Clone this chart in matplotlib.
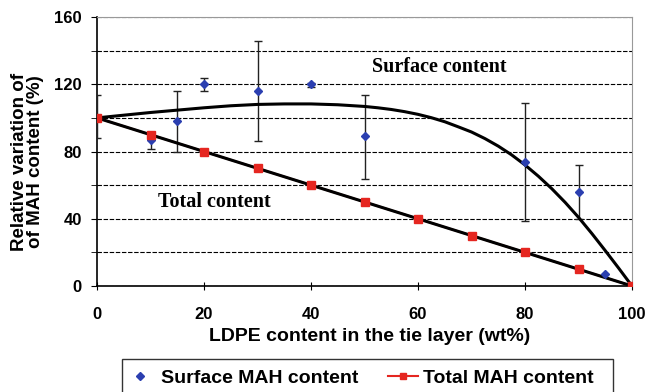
import matplotlib.pyplot as plt
from matplotlib.patches import Rectangle

# Surface MAH content: measured means and error bar limits
surface_x = [0, 10, 15, 20, 30, 40, 50, 80, 90, 95, 100]
surface_y = [100, 87, 98, 120, 116, 120, 89, 74, 56, 7, 0]
err_x = [0, 10, 15, 20, 30, 40, 50, 80, 90]
err_lo = [88, 81.5, 80, 116, 86, 118.5, 63.5, 38.5, 40]
err_hi = [113.5, 91.5, 116, 124, 146, 121, 113.5, 109, 72]

# Total MAH content
total_x = [0, 10, 20, 30, 40, 50, 60, 70, 80, 90, 100]
total_y = [100, 90, 80, 70, 60, 50, 40, 30, 20, 10, 0]

# trend curve drawn through the surface data
curve_x = [0, 5, 10, 15, 20, 25, 30, 35, 40, 45, 50, 52.5, 55, 57.5, 60, 62.5, 65,
           67.5, 70, 72.5, 75, 77.5, 80, 82.5, 85, 87.5, 90, 92.5, 95, 97.5, 100]
curve_y = [100, 101.6, 103.2, 104.6, 106, 107.2, 108, 108.3, 108.3, 107.8, 106.8,
           106.0, 105.0, 103.7, 102.1, 100.1, 97.7, 94.7, 91.6, 87.7, 83.2, 78.0,
           72.0, 65.3, 57.9, 49.75, 40.85, 31.2, 21.05, 10.65, 0]

plt.rcParams['font.family'] = 'Liberation Sans'
plt.rcParams['font.weight'] = 'bold'
plt.rcParams['axes.labelweight'] = 'bold'

W, H = 650, 392
fig = plt.figure(figsize=(W / 100, H / 100), dpi=100)
ax = fig.add_axes([97 / W, 1 - 286 / H, 535 / W, 269 / H])

ax.set_xlim(0, 100)
ax.set_ylim(0, 160)
ax.set_xticks(range(0, 101, 20))
ax.set_yticks(range(0, 161, 40))
ax.set_yticks(range(20, 161, 40), minor=True)
ax.grid(axis='y', which='both', color='black', linestyle=(0, (4, 1.5)), linewidth=0.8)
ax.set_axisbelow(True)

for s in ['top', 'right']:
    ax.spines[s].set_color('#999999')
    ax.spines[s].set_linewidth(0.8)
for s in ['left', 'bottom']:
    ax.spines[s].set_linewidth(1.2)

ax.tick_params(axis='y', which='both', direction='out', length=4, pad=7, labelsize=12)
ax.tick_params(axis='x', direction='inout', length=6, pad=12, labelsize=12)

# error bars
lo = [y - l for y, l in zip(surface_y, err_lo)]
hi = [h - y for y, h in zip(surface_y, err_hi)]
ax.errorbar(err_x, surface_y[:len(err_x)], yerr=[lo, hi], fmt='none',
            ecolor='#222222', elinewidth=1, capsize=3, capthick=1, zorder=3)

# trend lines
ax.plot(total_x, total_y, color='#e52620', linewidth=1.5, zorder=3)
ax.plot(curve_x, curve_y, color='black', linewidth=2.2, zorder=4)
ax.plot(total_x, total_y, color='black', linewidth=2.2, zorder=4)

ax.plot(surface_x, surface_y, linestyle='none', marker='D', markersize=4,
        color='#2b3fb0', zorder=5)
ax.plot(total_x, total_y, linestyle='none', marker='s', markersize=6,
        color='#e52620', zorder=6)

ax.text(64, 130, 'Surface content', family='Liberation Serif', fontweight='bold',
        fontsize=14.5, ha='center', va='center')
ax.text(22, 50, 'Total content', family='Liberation Serif', fontweight='bold',
        fontsize=14.5, ha='center', va='center')

ax.set_xlabel('LDPE content in the tie layer (wt%)', fontsize=14)
ax.xaxis.set_label_coords(0.51, -0.155)

fig.text(24 / W, 1 - 162 / H, 'Relative variation of', rotation=90,
         rotation_mode='anchor', ha='center', va='baseline', fontsize=13.5)
fig.text(40 / W, 1 - 162 / H, 'of MAH content (%)', rotation=90,
         rotation_mode='anchor', ha='center', va='baseline', fontsize=13.5)

# legend
h1, = ax.plot([], [], linestyle='none', marker='D', markersize=4, color='#2b3fb0')
h2, = ax.plot([], [], color='#e52620', marker='s', markersize=5, linewidth=1.5)
fig.legend([h1, h2], ['Surface MAH content', 'Total MAH content'],
           loc='center left', bbox_to_anchor=(125 / W, 1 - 378 / H),
           ncol=2, frameon=False, fontsize=14, handlelength=1.55,
           columnspacing=1.5, handletextpad=0.3, borderpad=0, borderaxespad=0)
fig.patches.append(Rectangle((122 / W, -0.1), 491 / W, 0.1 + 1 - 359 / H,
                             transform=fig.transFigure, fill=False,
                             edgecolor='#333333', linewidth=1))

fig.savefig('out.png', dpi=100)
